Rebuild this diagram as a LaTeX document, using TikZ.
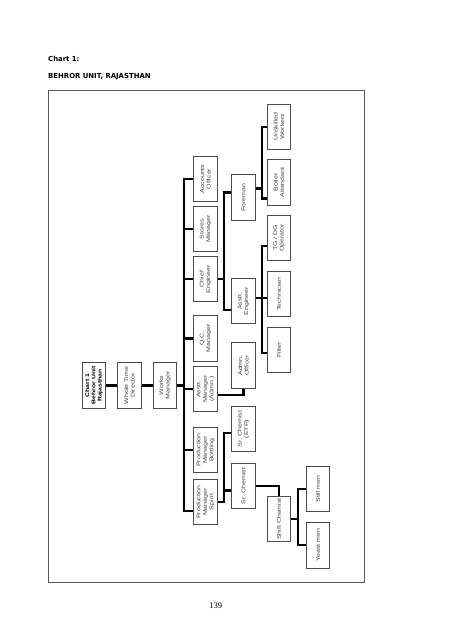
\documentclass[tikz,border=0pt]{standalone}
\usepackage{fontspec}
\usetikzlibrary{calc}
\newfontfamily\postfont[FakeStretch=1.3]{Liberation Sans}
\newfontfamily\headfont{DejaVu Sans}
\newfontfamily\pagefont{Liberation Serif}
\newcommand{\post}[4]{ \node[postbox] (#1) at ( #2 , #3 ) {}; \node[posttext] at (#1) {#4};}
\newcommand{\headpost}[4]{ \node[postbox] (#1) at ( #2 , #3 ) {}; \node[posttext, text=black, font=\postfont\bfseries\fontsize{5.3}{6.3}\selectfont] at (#1) {#4};}

\begin{document}
\begin{tikzpicture}[x=1pt, y=-1pt,
  postbox/.style={draw=black!70, line width=0.6pt, minimum width=23.5pt, minimum height=45.5pt, inner sep=0pt},
  posttext/.style={rotate=90, align=center, inner sep=0pt, text=black!75, font=\postfont\fontsize{5.4}{6.5}\selectfont},
  link/.style={line width=2.3pt, black},
  frame/.style={draw=black!65, line width=0.9pt}]
\useasboundingbox (0,0) rectangle (452,640);
% heading
\node[anchor=base west, inner sep=0pt, font=\headfont\bfseries\fontsize{6.9}{8}\selectfont] (charttitle) at (48,61.8) {Chart 1:};
\node[anchor=base west, inner sep=0pt, font=\headfont\bfseries\fontsize{6.9}{8}\selectfont] (unittitle) at (48,78.2) {BEHROR UNIT, RAJASTHAN};
\draw[frame] (48,90) rectangle (364,582);
% top row
\headpost{chart}{94}{385.5}{Chart 1\\Behror Unit\\Rajasthan}
\post{wtd}{129.5}{385.5}{Whole Time\\Director}
\post{works}{165}{385.5}{Works\\Manager}
% level 1
\post{accounts}{205.5}{179}{Accounts\\Officer}
\post{stores}{205.5}{229}{Stores\\Manager}
\post{chiefeng}{205.5}{279}{Chief\\Engineer}
\post{qc}{205.5}{338.5}{Q.C.\\Manager}
\post{asstmgr}{205.5}{389}{Asstt.\\Manager\\(Admn.)}
\post{prodbott}{205.5}{450}{Production\\Manager\\Bottling}
\post{prodspirit}{205.5}{502}{Production\\Manager\\Spirit}
% level 2
\post{foreman}{243.5}{197.5}{Foreman}
\post{assteng}{243.5}{301}{Asstt.\\Engineer}
\post{admn}{243.5}{365.5}{Admn.\\Officer}
\post{etp}{243.5}{429}{Sr. Chemist\\(ETP)}
\post{srchem}{243.5}{486}{Sr. Chemist}
% level 3
\post{unskilled}{279}{126.7}{Unskilled\\Workers}
\post{boiler}{279}{182.5}{Boiler\\Attendant}
\post{tgdg}{279}{237.8}{TG / DG\\Operator}
\post{technician}{279}{294}{Technician}
\post{filter}{279}{349.8}{Filter}
\post{shiftchem}{279}{519}{Shift Chemist}
% level 4
\post{still}{318}{489}{Still men}
\post{yeast}{318}{545.3}{Yeast men}
% spines
\coordinate (trunk) at (184,0);
\coordinate (spineA) at (224.3,0);
\coordinate (spineC) at (261.7,0);
\coordinate (spineD) at (298.3,0);
\coordinate (spiritjoin) at ([yshift=-9pt]prodspirit.west);
\coordinate (etpjoin) at ([yshift=-4pt]etp.west);
\coordinate (srjoin) at ([yshift=-4.5pt]srchem.west);
\coordinate (foremanjoin) at ([yshift=5pt]foreman.west);
\coordinate (asstengjoin) at ([yshift=-9pt]assteng.west);
\coordinate (techjoin) at ([yshift=3pt]assteng.east);
\coordinate (tgdgjoin) at ([yshift=-8pt]tgdg.west);
\coordinate (filterjoin) at ([yshift=-3.5pt]filter.west);
\coordinate (boilerjoin) at ([yshift=-16pt]boiler.west);
\coordinate (foremanout) at ([yshift=9pt]foreman.east);
% connectors
\draw[link] (chart.east) -- (wtd.west) (wtd.east) -- (works.west);
\draw[link] (works.east) -- (works.east -| trunk);
\draw[link] (accounts.west) -| (trunk |- spiritjoin) -- (spiritjoin);
\foreach \n in {stores,chiefeng,qc,asstmgr,prodbott} { \draw[link] (trunk |- \n.west) -- (\n.west); }
\draw[link] (prodspirit.east) -| (spineA |- etpjoin) -- (etpjoin);
\draw[link] (spineA |- srjoin) -- (srjoin);
\draw[link] ([yshift=-6pt]asstmgr.east) -| (admn.south);
\draw[link] (chiefeng.east) -- (spineA |- chiefeng.east);
\draw[link] (foremanjoin) -| (spineA |- asstengjoin) -- (asstengjoin);
\draw[link] (techjoin) -- (techjoin -| technician.west);
\draw[link] (tgdgjoin) -| (spineC |- filterjoin) -- (filterjoin);
\draw[link] (unskilled.west) -| (spineC |- boilerjoin) -- (boilerjoin);
\draw[link] (foremanout) -- (foremanout -| spineC);
\draw[link] (srchem.east) -| (shiftchem.north);
\draw[link] (still.west) -| (spineD |- yeast.west) -- (yeast.west);
\draw[link] (shiftchem.east) -- (shiftchem.east -| spineD);
% page number
\node[font=\pagefont\fontsize{8.5}{10}\selectfont] (pageno) at (215.7,606) {139};
\end{tikzpicture}
\end{document}
